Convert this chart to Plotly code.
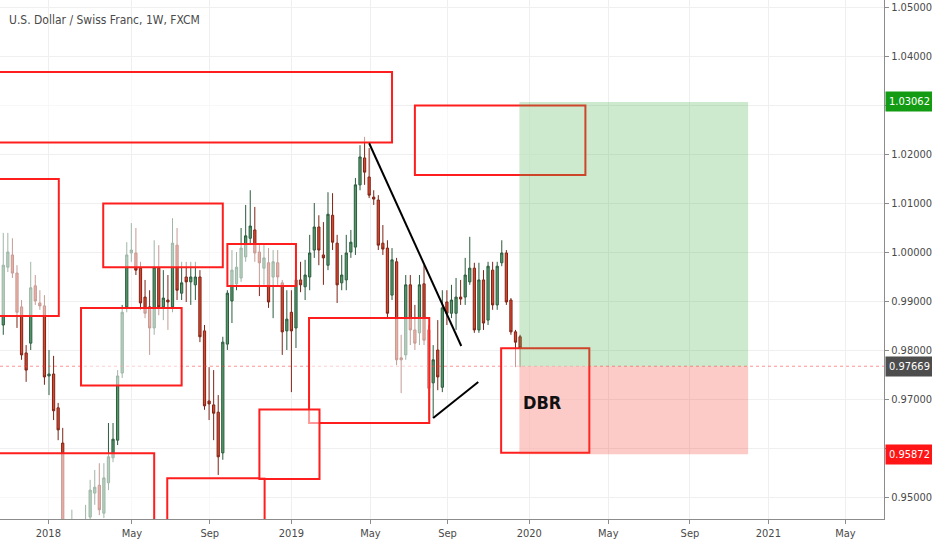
import pandas as pd
import plotly.graph_objects as go

# ---------------- data (weekly USDCHF) ----------------
week_start = "2017-10-16"
n_weeks = 114
dates = pd.date_range(week_start, periods=n_weeks, freq="7D")

opens = [0.9851,0.9969,0.9994,0.9957,0.9888,0.9794,0.9814,0.9931,0.9896,0.9890,
         0.9747,0.9751,0.9682,0.9610,0.9351,0.9306,0.9361,0.9335,0.9396,0.9459,
         0.9508,0.9524,0.9467,0.9529,0.9580,0.9616,0.9753,0.9888,0.9998,0.9998,
         0.9967,0.9908,0.9888,0.9845,0.9967,0.9888,0.9902,0.9888,1.0014,0.9916,
         0.9949,0.9939,0.9933,0.9949,0.9839,0.9696,0.9688,0.9673,0.9590,0.9812,
         0.9900,0.9935,0.9947,0.9990,1.0028,1.0045,1.0000,0.9967,0.9978,0.9949,
         0.9978,0.9937,0.9839,0.9877,0.9845,0.9943,0.9929,0.9949,1.0004,1.0051,
         0.9994,0.9973,1.0075,1.0018,0.9937,0.9943,1.0000,1.0010,1.0137,1.0192,
         1.0153,1.0112,1.0106,1.0018,1.0008,0.9912,0.9980,0.9784,0.9790,0.9933,
         0.9841,0.9835,0.9935,0.9841,0.9733,0.9800,0.9724,0.9898,0.9875,0.9875,
         0.9908,0.9908,0.9939,0.9967,0.9841,0.9943,0.9861,0.9963,0.9892,0.9978,
         0.9998,0.9902,0.9837,0.9827]
highs = [1.0039,1.0039,1.0028,0.9973,0.9902,0.9810,0.9980,0.9953,0.9922,0.9912,
         0.9800,0.9788,0.9692,0.9641,0.9382,0.9474,0.9433,0.9443,0.9484,0.9535,
         0.9555,0.9569,0.9569,0.9651,0.9651,0.9759,0.9892,1.0020,1.0059,1.0049,
         0.9980,0.9943,0.9922,1.0024,1.0014,0.9963,0.9953,1.0069,1.0049,0.9980,
         0.9980,0.9980,0.9980,0.9963,0.9851,0.9765,0.9759,0.9708,0.9827,0.9922,
         1.0004,1.0000,1.0049,1.0096,1.0126,1.0092,1.0014,1.0014,1.0008,1.0004,
         1.0004,0.9943,0.9922,0.9922,0.9947,0.9980,0.9984,1.0035,1.0100,1.0075,
         1.0061,1.0122,1.0120,1.0035,0.9994,1.0035,1.0045,1.0151,1.0218,1.0235,
         1.0212,1.0126,1.0116,1.0055,1.0024,1.0008,0.9988,0.9831,0.9953,0.9953,
         0.9892,0.9953,0.9973,0.9851,0.9810,0.9861,0.9922,0.9922,0.9933,0.9947,
         0.9943,0.9988,1.0031,0.9978,0.9978,0.9963,0.9980,0.9980,0.9980,1.0024,
         1.0004,0.9906,0.9841,0.9831]
lows = [0.9831,0.9959,0.9947,0.9845,0.9780,0.9735,0.9800,0.9892,0.9882,0.9729,
        0.9708,0.9657,0.9616,0.9331,0.9280,0.9265,0.9300,0.9310,0.9371,0.9449,
        0.9484,0.9463,0.9457,0.9514,0.9571,0.9606,0.9743,0.9877,0.9980,0.9953,
        0.9882,0.9865,0.9790,0.9831,0.9871,0.9861,0.9841,0.9877,0.9902,0.9902,
        0.9898,0.9892,0.9902,0.9816,0.9678,0.9657,0.9616,0.9545,0.9576,0.9800,
        0.9855,0.9922,0.9939,0.9980,1.0014,0.9980,0.9910,0.9933,0.9886,0.9865,
        0.9933,0.9790,0.9800,0.9714,0.9804,0.9918,0.9902,0.9922,0.9988,0.9973,
        0.9933,0.9963,1.0004,0.9896,0.9922,0.9922,0.9988,0.9994,1.0126,1.0137,
        1.0110,1.0096,1.0004,0.9994,0.9865,0.9902,0.9769,0.9712,0.9780,0.9810,
        0.9800,0.9810,0.9810,0.9657,0.9661,0.9718,0.9714,0.9851,0.9865,0.9841,
        0.9892,0.9892,0.9933,0.9835,0.9835,0.9841,0.9851,0.9882,0.9882,0.9971,
        0.9892,0.9831,0.9765,0.9765]
closes = [0.9973,1.0000,0.9957,0.9877,0.9790,0.9759,0.9927,0.9900,0.9890,0.9745,
          0.9751,0.9676,0.9637,0.9351,0.9306,0.9361,0.9335,0.9396,0.9449,0.9514,
          0.9520,0.9474,0.9539,0.9582,0.9618,0.9747,0.9877,0.9994,1.0004,0.9963,
          0.9896,0.9875,0.9845,0.9969,0.9888,0.9906,0.9898,1.0018,0.9922,0.9937,
          0.9939,0.9949,0.9949,0.9827,0.9686,0.9690,0.9671,0.9582,0.9816,0.9916,
          0.9963,0.9969,1.0008,1.0033,1.0053,0.9998,0.9978,0.9988,0.9898,0.9980,
          0.9949,0.9837,0.9863,0.9839,0.9943,0.9933,0.9953,0.9998,1.0051,1.0004,
          0.9988,1.0077,1.0020,0.9933,0.9953,0.9998,1.0020,1.0137,1.0194,1.0163,
          1.0116,1.0108,1.0014,1.0006,0.9875,0.9984,0.9780,0.9780,0.9933,0.9841,
          0.9814,0.9933,0.9820,0.9722,0.9780,0.9745,0.9886,0.9875,0.9902,0.9908,
          0.9904,0.9953,0.9967,0.9841,0.9943,0.9855,0.9971,0.9892,0.9971,0.9998,
          0.9898,0.9837,0.9816,0.9804]

# supply / demand zones drawn on the chart: (start, end, top price, bottom price)
zone_x0 = ["2017-08-01", "2017-08-01", "2018-03-18", "2018-02-12", "2018-09-24", "2019-01-27",
           "2019-07-08", "2017-08-01", "2018-06-24", "2018-11-12", "2019-11-17"]
zone_x1 = ["2019-06-03", "2018-01-09", "2018-09-17", "2018-07-16", "2019-01-07", "2019-07-30",
           "2020-03-25", "2018-06-04", "2018-11-20", "2019-02-12", "2020-03-31"]
zone_top = [1.03674, 1.01490, 1.00990, 0.98857, 1.00163, 0.98653,
            1.02990, 0.95892, 0.95382, 0.96786, 0.98035]
zone_bot = [1.02235, 0.98694, 0.99688, 0.97276, 0.99306, 0.96510,
            1.01571, 0.92000, 0.92000, 0.95367, 0.95904]

# long position tool
pos_start, pos_end = "2019-12-15", "2020-11-29"
entry_price, target_price, stop_price = 0.97669, 1.03062, 0.95872

# trend lines: (date0, price0, date1, price1)
trend_lines = [("2019-04-29", 1.0222, "2019-09-17", 0.98082),
               ("2019-08-05", 0.96613, "2019-10-13", 0.97347)]

tick_dates = ["2017-12-24", "2018-05-01", "2018-08-28", "2018-12-31", "2019-05-01", "2019-08-27",
              "2019-12-30", "2020-04-29", "2020-09-01", "2020-12-30", "2021-04-27"]
tick_text = ["2018", "May", "Sep", "2019", "May", "Sep", "2020", "May", "Sep", "2021", "May"]
price_ticks = [0.95, 0.96, 0.97, 0.98, 0.99, 1.00, 1.01, 1.02, 1.03, 1.04, 1.05]
# 0.96 and 1.03 sit under the stop / target price labels, as in the original
price_tick_text = ["0.95000", "", "0.97000", "0.98000", "0.99000", "1.00000",
                   "1.01000", "1.02000", "", "1.04000", "1.05000"]

FONT = "DejaVu Sans Condensed, Roboto, Arial, sans-serif"

# ---------------- figure ----------------
fig = go.Figure()
fig.add_trace(go.Candlestick(
    x=dates, open=opens, high=highs, low=lows, close=closes,
    increasing=dict(fillcolor="#55996b", line=dict(color="#2c5c3e", width=1)),
    decreasing=dict(fillcolor="#d9472f", line=dict(color="#7e2416", width=1)),
    whiskerwidth=0, showlegend=False, hoverinfo="skip"))

shapes = []
shapes.append(dict(type="line", xref="paper", x0=0, x1=1, yref="y", y0=entry_price, y1=entry_price,
                   line=dict(color="rgba(255,60,60,0.55)", width=1, dash="dot"), layer="above"))
for a, b, t, btm in zip(zone_x0, zone_x1, zone_top, zone_bot):
    shapes.append(dict(type="rect", x0=a, x1=b, y0=btm, y1=t, xref="x", yref="y",
                       line=dict(color="#ff1e1e", width=2),
                       fillcolor="rgba(255,255,255,0.55)", layer="above"))
shapes.append(dict(type="rect", x0=pos_start, x1=pos_end, y0=entry_price, y1=target_price,
                   line=dict(width=0), fillcolor="rgba(76,175,80,0.28)", layer="above"))
shapes.append(dict(type="rect", x0=pos_start, x1=pos_end, y0=stop_price, y1=entry_price,
                   line=dict(width=0), fillcolor="rgba(244,67,54,0.28)", layer="above"))
for d0, p0, d1, p1 in trend_lines:
    shapes.append(dict(type="line", x0=d0, y0=p0, x1=d1, y1=p1, xref="x", yref="y",
                       line=dict(color="black", width=2), layer="above"))

annotations = [
    dict(text="U.S. Dollar / Swiss Franc, 1W, FXCM", xref="paper", yref="paper", x=0.008, y=0.962,
         xanchor="left", yanchor="middle", showarrow=False,
         font=dict(family=FONT, size=12, color="#4a4a4a")),
    dict(text="<b>DBR</b>", x="2020-01-20", y=0.9692, xref="x", yref="y", showarrow=False,
         font=dict(family=FONT, size=18, color="#111111")),
]
for price, col in [(target_price, "#139b13"), (entry_price, "#4d4d4d"), (stop_price, "#ff1515")]:
    annotations.append(dict(text=f"{price:.5f}", x=1, xref="paper", y=price, yref="y",
                            xanchor="left", yanchor="middle", xshift=1, showarrow=False,
                            bgcolor=col, width=45, height=17, align="center",
                            font=dict(family=FONT, size=11, color="white")))

fig.update_layout(
    width=932, height=550,
    margin=dict(l=0, r=48, t=0, b=31),
    paper_bgcolor="white", plot_bgcolor="white",
    shapes=shapes, annotations=annotations,
    xaxis=dict(type="date", range=["2017-10-11", "2021-06-25"], rangeslider=dict(visible=False),
               tickmode="array", tickvals=tick_dates, ticktext=tick_text,
               showgrid=True, gridcolor="#efefef", gridwidth=1,
               showline=True, linecolor="#8c8c8c", linewidth=1,
               ticks="outside", ticklen=4, tickcolor="#8c8c8c",
               tickfont=dict(family=FONT, size=11, color="#4a4a4a"), fixedrange=True),
    yaxis=dict(side="right", range=[0.94551, 1.05143], tickmode="array", tickvals=price_ticks,
               ticktext=price_tick_text, showgrid=True, gridcolor="#efefef", gridwidth=1,
               showline=True, linecolor="#8c8c8c", linewidth=1,
               ticks="outside", ticklen=4, tickcolor="#8c8c8c", zeroline=False,
               tickfont=dict(family=FONT, size=11, color="#4a4a4a")),
)

fig.write_html("out.html", config={"displayModeBar": False},
               post_script="document.body.style.margin='0px';")
